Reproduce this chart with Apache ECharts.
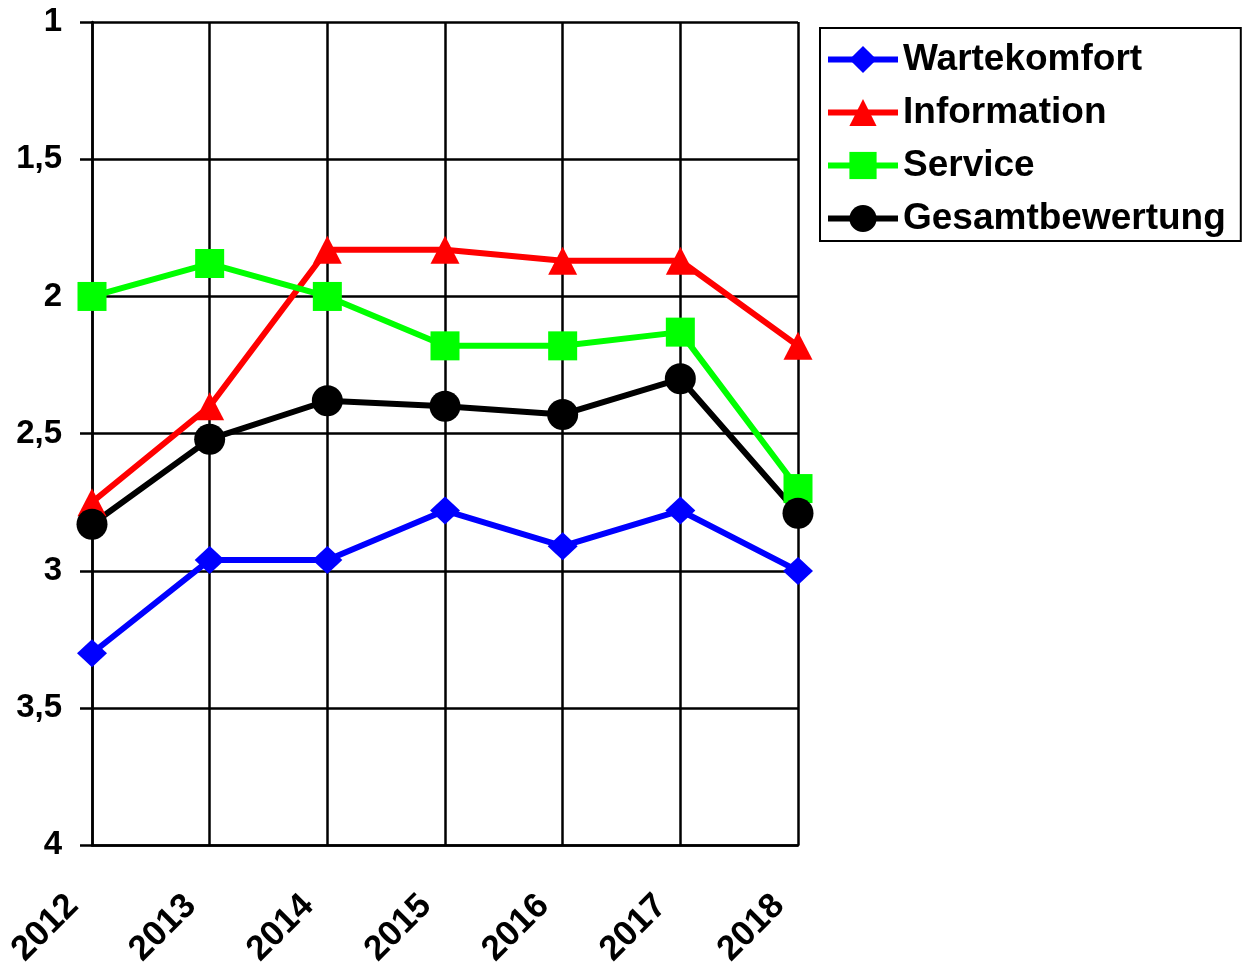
<!DOCTYPE html>
<html lang="de">
<head>
    <meta charset="UTF-8">
    <title>Bewertung</title>
    <script src="https://cdn.jsdelivr.net/npm/echarts@6/dist/echarts.min.js"></script>
    <style>
        html, body { margin: 0; padding: 0; background: #fff; }
        #chart { width: 1243px; height: 970px; }
    </style>
</head>
<body>
<div id="chart"></div>
<script>
    var years = ['2012', '2013', '2014', '2015', '2016', '2017', '2018'];
    var wartekomfort = [3.30, 2.96, 2.96, 2.78, 2.91, 2.78, 3.00];
    var information = [2.75, 2.40, 1.83, 1.83, 1.87, 1.87, 2.18];
    var service = [2.00, 1.88, 2.00, 2.18, 2.18, 2.13, 2.70];
    var gesamt = [2.83, 2.52, 2.38, 2.40, 2.43, 2.30, 2.79];

    var font = 'Liberation Sans, Arial, sans-serif';
    var chart = echarts.init(document.getElementById('chart'));

    function line(name, data, color, symbol, size) {
        return {
            name: name,
            type: 'line',
            data: data,
            symbol: symbol,
            symbolSize: size,
            lineStyle: { color: color, width: 6 },
            itemStyle: { color: color },
            z: 3
        };
    }

    var option = {
        animation: false,
        grid: { left: 92, right: 445, top: 22, bottom: 122 },
        legend: {
            orient: 'vertical',
            left: 820,
            top: 28,
            padding: [13, 15, 4, 5],
            itemGap: 16,
            itemWidth: 70,
            itemHeight: 34,
            borderColor: '#000',
            borderWidth: 2,
            lineStyle: { width: 6 },
            textStyle: { fontFamily: font, fontWeight: 'bold', fontSize: 37, lineHeight: 37, color: '#000' }
        },
        xAxis: {
            type: 'category',
            data: years,
            boundaryGap: false,
            axisLine: { lineStyle: { color: '#000', width: 2.5 } },
            axisTick: { show: false },
            splitLine: { show: true, lineStyle: { color: '#000', width: 2.5 } },
            axisLabel: {
                rotate: 45,
                margin: 36,
                padding: [0, 27, 0, 0],
                fontFamily: font,
                fontWeight: 'bold',
                fontSize: 35,
                color: '#000'
            }
        },
        yAxis: {
            type: 'value',
            inverse: true,
            min: 1,
            max: 4,
            interval: 0.5,
            axisLine: { show: true, lineStyle: { color: '#000', width: 2.5 } },
            axisTick: { show: true, inside: false, length: 12, lineStyle: { color: '#000', width: 2.5 } },
            splitLine: { show: true, lineStyle: { color: '#000', width: 2.5 } },
            axisLabel: {
                margin: 30,
                fontFamily: font,
                fontWeight: 'bold',
                fontSize: 33,
                color: '#000',
                formatter: function (v) { return String(v).replace('.', ','); }
            }
        },
        series: [
            line('Wartekomfort', wartekomfort, '#0000ff', 'diamond', [30, 28]),
            line('Information', information, '#ff0000', 'triangle', [29, 28]),
            line('Service', service, '#00ff00', 'rect', 29),
            line('Gesamtbewertung', gesamt, '#000000', 'circle', 31)
        ]
    };
    chart.setOption(option);
</script>
</body>
</html>
